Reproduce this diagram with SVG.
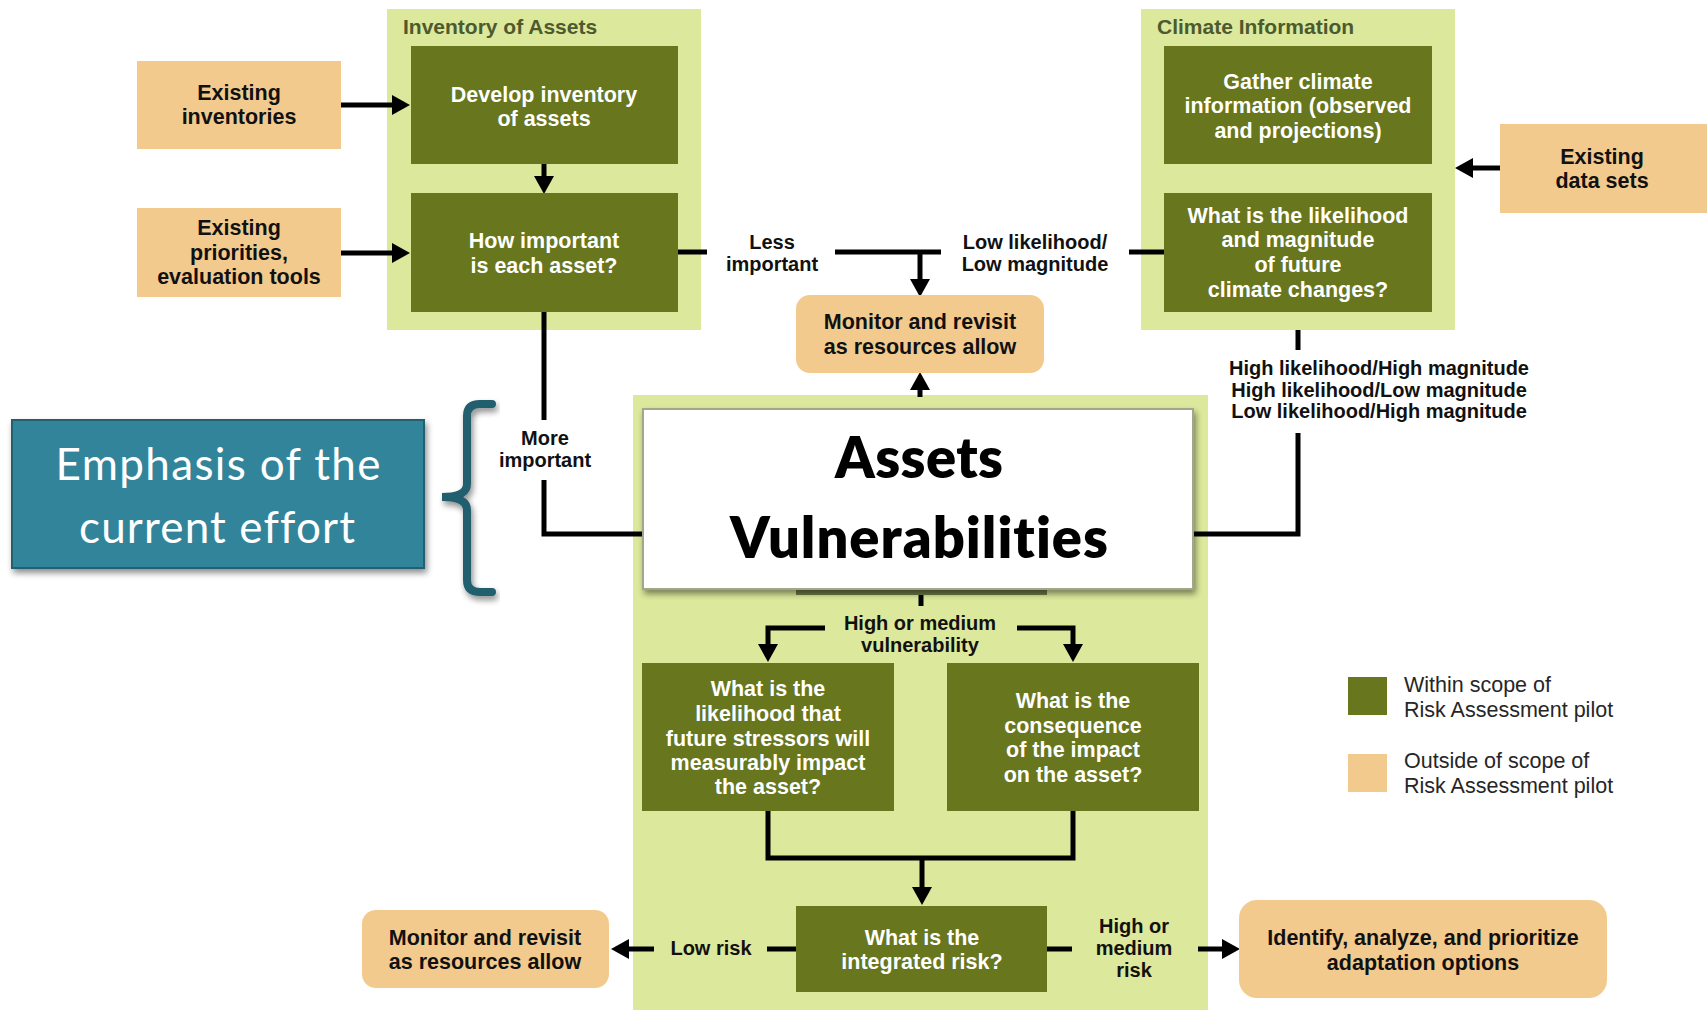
<svg xmlns="http://www.w3.org/2000/svg" width="1707" height="1013" viewBox="0 0 1707 1013">
  <defs>
    <style>
      .panel { fill: #dce89b; }
      .box { fill: #68761e; }
      .ext { fill: #f3ca8e; }
      .wt { fill: #ffffff; font: bold 21.5px "Liberation Sans", Arial, Helvetica, sans-serif; text-anchor: middle; }
      .bt { fill: #111111; font: bold 21.5px "Liberation Sans", Arial, Helvetica, sans-serif; text-anchor: middle; }
      .lbl { fill: #111111; font: bold 20px "Liberation Sans", Arial, Helvetica, sans-serif; text-anchor: middle; }
      .ttl { fill: #4d5a2e; font: bold 21px "Liberation Sans", Arial, Helvetica, sans-serif; }
      .leg { fill: #262626; font: 21.5px "Liberation Sans", Arial, Helvetica, sans-serif; }
      .big { font-family: Lato, "Open Sans", sans-serif; font-variant-ligatures: none; text-anchor: middle; }
      .conn { fill: none; stroke: #000000; stroke-width: 5; stroke-linejoin: miter; }
      .arrow { marker-end: url(#head); }
    </style>
    <marker id="head" markerUnits="userSpaceOnUse" markerWidth="20" markerHeight="22" refX="4" refY="11" orient="auto">
      <path d="M0,1 L18,11 L0,21 z" fill="#000000"/>
    </marker>
    <filter id="shadow" x="-10%" y="-10%" width="125%" height="135%">
      <feGaussianBlur in="SourceAlpha" stdDeviation="3"/>
      <feOffset dx="2" dy="4" result="b"/>
      <feComponentTransfer><feFuncA type="linear" slope="0.45"/></feComponentTransfer>
      <feMerge><feMergeNode/><feMergeNode in="SourceGraphic"/></feMerge>
    </filter>
  </defs>

  <rect width="1707" height="1013" fill="#ffffff"/>

  <!-- Grouping panels -->
  <g id="panel-inventory">
    <rect class="panel" x="387" y="9" width="314" height="321"/>
    <text class="ttl" x="403" y="34">Inventory of Assets</text>
  </g>
  <g id="panel-climate">
    <rect class="panel" x="1141" y="9" width="314" height="321"/>
    <text class="ttl" x="1157" y="34">Climate Information</text>
  </g>
  <g id="panel-vulnerability">
    <rect class="panel" x="633" y="395" width="575" height="615"/>
  </g>

  <!-- Connectors -->
  <g id="connectors">
    <path class="conn arrow" d="M341,105 H396"/>
    <path class="conn arrow" d="M341,253 H396"/>
    <path class="conn arrow" d="M544,164 V180"/>
    <path class="conn" d="M678,252 H707"/>
    <path class="conn" d="M835,252 H941"/>
    <path class="conn arrow" d="M920,252 V283"/>
    <path class="conn" d="M1129,252 H1164"/>
    <path class="conn arrow" d="M1500,168 H1469"/>
    <path class="conn" d="M1298,330 V350"/>
    <path class="conn" d="M1298,433 V534 H1193"/>
    <path class="conn" d="M544,312 V420"/>
    <path class="conn" d="M544,480 V534 H643"/>
    <path class="conn arrow" d="M920,397 V386"/>
    <path class="conn" d="M921,595 V606"/>
    <path class="conn arrow" d="M825,628 H768 V648"/>
    <path class="conn arrow" d="M1017,628 H1073 V648"/>
    <path class="conn" d="M768,811 V858 H1073 V811"/>
    <path class="conn arrow" d="M922,858 V891"/>
    <path class="conn" d="M796,949 H767"/>
    <path class="conn arrow" d="M654,949 H625"/>
    <path class="conn" d="M1047,949 H1072"/>
    <path class="conn arrow" d="M1198,949 H1226"/>
  </g>

  <!-- Connector labels -->
  <g id="labels">
    <text class="lbl" x="772" y="249">Less</text>
    <text class="lbl" x="772" y="271">important</text>
    <text class="lbl" x="1035" y="249">Low likelihood/</text>
    <text class="lbl" x="1035" y="271">Low magnitude</text>
    <text class="lbl" x="1379" y="375">High likelihood/High magnitude</text>
    <text class="lbl" x="1379" y="397">High likelihood/Low magnitude</text>
    <text class="lbl" x="1379" y="418">Low likelihood/High magnitude</text>
    <text class="lbl" x="545" y="445">More</text>
    <text class="lbl" x="545" y="467">important</text>
    <text class="lbl" x="920" y="630">High or medium</text>
    <text class="lbl" x="920" y="652">vulnerability</text>
    <text class="lbl" x="711" y="955">Low risk</text>
    <text class="lbl" x="1134" y="933">High or</text>
    <text class="lbl" x="1134" y="955">medium</text>
    <text class="lbl" x="1134" y="977">risk</text>
  </g>

  <!-- External inputs -->
  <g id="existing-inventories">
    <rect class="ext" x="137" y="61" width="204" height="88"/>
    <text class="bt" x="239" y="100">Existing</text>
    <text class="bt" x="239" y="124">inventories</text>
  </g>
  <g id="existing-priorities">
    <rect class="ext" x="137" y="208" width="204" height="89"/>
    <text class="bt" x="239" y="235">Existing</text>
    <text class="bt" x="239" y="260">priorities,</text>
    <text class="bt" x="239" y="284">evaluation tools</text>
  </g>
  <g id="existing-data-sets">
    <rect class="ext" x="1500" y="124" width="207" height="89"/>
    <text class="bt" x="1602" y="164">Existing</text>
    <text class="bt" x="1602" y="188">data sets</text>
  </g>

  <!-- Inventory steps -->
  <g id="develop-inventory">
    <rect class="box" x="411" y="46" width="267" height="118"/>
    <text class="wt" x="544" y="102">Develop inventory</text>
    <text class="wt" x="544" y="126">of assets</text>
  </g>
  <g id="asset-importance">
    <rect class="box" x="411" y="193" width="267" height="119"/>
    <text class="wt" x="544" y="248">How important</text>
    <text class="wt" x="544" y="273">is each asset?</text>
  </g>

  <!-- Climate steps -->
  <g id="gather-climate">
    <rect class="box" x="1164" y="46" width="268" height="118"/>
    <text class="wt" x="1298" y="89">Gather climate</text>
    <text class="wt" x="1298" y="113">information (observed</text>
    <text class="wt" x="1298" y="138">and projections)</text>
  </g>
  <g id="climate-likelihood">
    <rect class="box" x="1164" y="193" width="268" height="119"/>
    <text class="wt" x="1298" y="223">What is the likelihood</text>
    <text class="wt" x="1298" y="247">and magnitude</text>
    <text class="wt" x="1298" y="272">of future</text>
    <text class="wt" x="1298" y="297">climate changes?</text>
  </g>

  <!-- Low priority outcome -->
  <g id="monitor-top">
    <rect class="ext" x="796" y="295" width="248" height="78" rx="14"/>
    <text class="bt" x="920" y="329">Monitor and revisit</text>
    <text class="bt" x="920" y="354">as resources allow</text>
  </g>

  <!-- Vulnerability assessment -->
  <g id="assets-vulnerabilities">
    <rect x="796" y="585" width="251" height="10" fill="#6f7b46"/>
    <rect x="643" y="409" width="550" height="180" fill="#ffffff" stroke="#a3a68c" stroke-width="2" filter="url(#shadow)"/>
    <text class="big" x="919" y="478" font-weight="800" font-size="56" fill="#000000" textLength="168">Assets</text>
    <text class="big" x="919" y="558" font-weight="800" font-size="56" fill="#000000" textLength="378">Vulnerabilities</text>
  </g>

  <g id="stressor-likelihood">
    <rect class="box" x="642" y="663" width="252" height="148"/>
    <text class="wt" x="768" y="696">What is the</text>
    <text class="wt" x="768" y="721">likelihood that</text>
    <text class="wt" x="768" y="746">future stressors will</text>
    <text class="wt" x="768" y="770">measurably impact</text>
    <text class="wt" x="768" y="794">the asset?</text>
  </g>
  <g id="impact-consequence">
    <rect class="box" x="947" y="663" width="252" height="148"/>
    <text class="wt" x="1073" y="708">What is the</text>
    <text class="wt" x="1073" y="733">consequence</text>
    <text class="wt" x="1073" y="757">of the impact</text>
    <text class="wt" x="1073" y="782">on the asset?</text>
  </g>
  <g id="integrated-risk">
    <rect class="box" x="796" y="906" width="251" height="86"/>
    <text class="wt" x="922" y="945">What is the</text>
    <text class="wt" x="922" y="969">integrated risk?</text>
  </g>

  <!-- Risk outcomes -->
  <g id="monitor-bottom">
    <rect class="ext" x="362" y="910" width="247" height="78" rx="14"/>
    <text class="bt" x="485" y="945">Monitor and revisit</text>
    <text class="bt" x="485" y="969">as resources allow</text>
  </g>
  <g id="adaptation-options">
    <rect class="ext" x="1239" y="900" width="368" height="98" rx="18"/>
    <text class="bt" x="1423" y="945">Identify, analyze, and prioritize</text>
    <text class="bt" x="1423" y="970">adaptation options</text>
  </g>

  <!-- Legend -->
  <g id="legend">
    <rect class="box" x="1348" y="677" width="39" height="38"/>
    <text class="leg" x="1404" y="692">Within scope of</text>
    <text class="leg" x="1404" y="717">Risk Assessment pilot</text>
    <rect class="ext" x="1348" y="754" width="39" height="38"/>
    <text class="leg" x="1404" y="768">Outside of scope of</text>
    <text class="leg" x="1404" y="793">Risk Assessment pilot</text>
  </g>

  <!-- Emphasis callout -->
  <g id="emphasis">
    <rect x="12" y="420" width="412" height="148" fill="#31849b" stroke="#22606f" stroke-width="2" filter="url(#shadow)"/>
    <text class="big" x="218" y="480" font-size="44" fill="#ffffff" textLength="325">Emphasis of the</text>
    <text class="big" x="217" y="543" font-size="44" fill="#ffffff" textLength="276">current effort</text>
  </g>
  <g id="brace">
    <path d="M492,404 H480 Q467,404 467,416 V484 Q467,497 442,497 Q467,497 467,510 V580 Q467,592 480,592 H492" fill="none" stroke="#235e6e" stroke-width="8" stroke-linecap="round" filter="url(#shadow)"/>
  </g>
</svg>
